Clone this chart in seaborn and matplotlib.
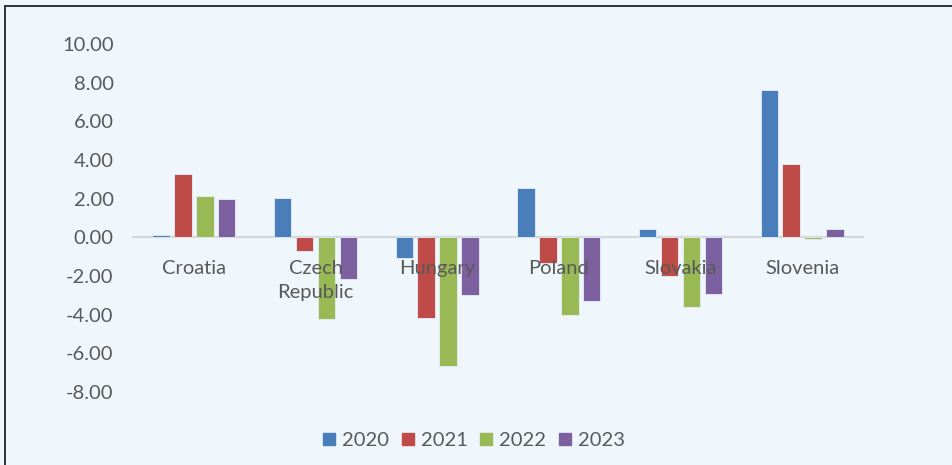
import matplotlib
matplotlib.use("Agg")
import matplotlib.pyplot as plt
import seaborn as sns
import pandas as pd
from matplotlib.lines import Line2D

countries = ["Croatia", "Czech\nRepublic", "Hungary", "Poland", "Slovakia", "Slovenia"]
years = ["2020", "2021", "2022", "2023"]
v2020 = [0.12, 2.05, -1.06, 2.53, 0.43, 7.60]
v2021 = [3.28, -0.72, -4.16, -1.35, -1.98, 3.80]
v2022 = [2.16, -4.20, -6.66, -4.00, -3.60, -0.08]
v2023 = [1.99, -2.16, -2.98, -3.30, -2.93, 0.41]
yticks = [-8, -6, -4, -2, 0, 2, 4, 6, 8, 10]

colors = ["#4A7EBB", "#BE4B48", "#98B954", "#7D60A0"]
bg = "#EFF7FD"
text_col = "#595959"

rows = []
for yr, vals in zip(years, [v2020, v2021, v2022, v2023]):
    for c, v in zip(countries, vals):
        rows.append({"country": c, "year": yr, "value": v})
df = pd.DataFrame(rows)

sns.set_theme(style="white")
plt.rcParams["font.family"] = ["Lato", "DejaVu Sans"]

fig = plt.figure(figsize=(9.52, 4.65), dpi=100, facecolor=bg)
ax = fig.add_axes([133 / 952, (465 - 392) / 465, 730 / 952, 348 / 465])
ax.set_facecolor(bg)

sns.barplot(data=df, x="country", y="value", hue="year", order=countries,
            hue_order=years, palette=colors, saturation=1, width=0.72, gap=0.2,
            edgecolor="#E6EEF7", linewidth=0.6, legend=False, ax=ax, zorder=2)

ax.set_xlim(-0.5, 5.5)
ax.set_ylim(-8, 10)
ax.set_yticks(yticks)
ax.set_yticklabels([f"{t:.2f}" for t in yticks])
ax.set_xlabel("")
ax.set_ylabel("")
ax.set_axisbelow(False)

for s in ["top", "right", "left"]:
    ax.spines[s].set_visible(False)
ax.spines["bottom"].set_position(("data", 0))
ax.spines["bottom"].set_color("#D3D7DB")
ax.spines["bottom"].set_linewidth(1.6)
ax.spines["bottom"].set_zorder(1)

ax.tick_params(axis="y", length=0, pad=14, labelsize=14.5, labelcolor=text_col)
ax.tick_params(axis="x", length=0, pad=16, labelsize=14.5, labelcolor=text_col)
for lab in ax.get_xticklabels():
    lab.set_linespacing(1.5)
    lab.set_verticalalignment("top")
ax.xaxis.set_zorder(5)
ax.grid(False)

handles = [Line2D([0], [0], marker="s", linestyle="none", markersize=9,
                  markerfacecolor=c, markeredgecolor=c) for c in colors]
fig.legend(handles, years, loc="center", bbox_to_anchor=(472 / 952, 1 - 440 / 465),
           ncol=4, frameon=False, fontsize=14.5, labelcolor=text_col,
           handletextpad=0.15, columnspacing=0.42, handlelength=1.0)

# chart frame: top and left edges
fig.add_artist(Line2D([5 / 952, 5 / 952], [0, 1 - 6 / 465], transform=fig.transFigure,
                      color="#333333", linewidth=1.4))
fig.add_artist(Line2D([5 / 952, 1], [1 - 6 / 465, 1 - 6 / 465], transform=fig.transFigure,
                      color="#333333", linewidth=1.4))

fig.savefig("out.png", dpi=100, facecolor=bg)
